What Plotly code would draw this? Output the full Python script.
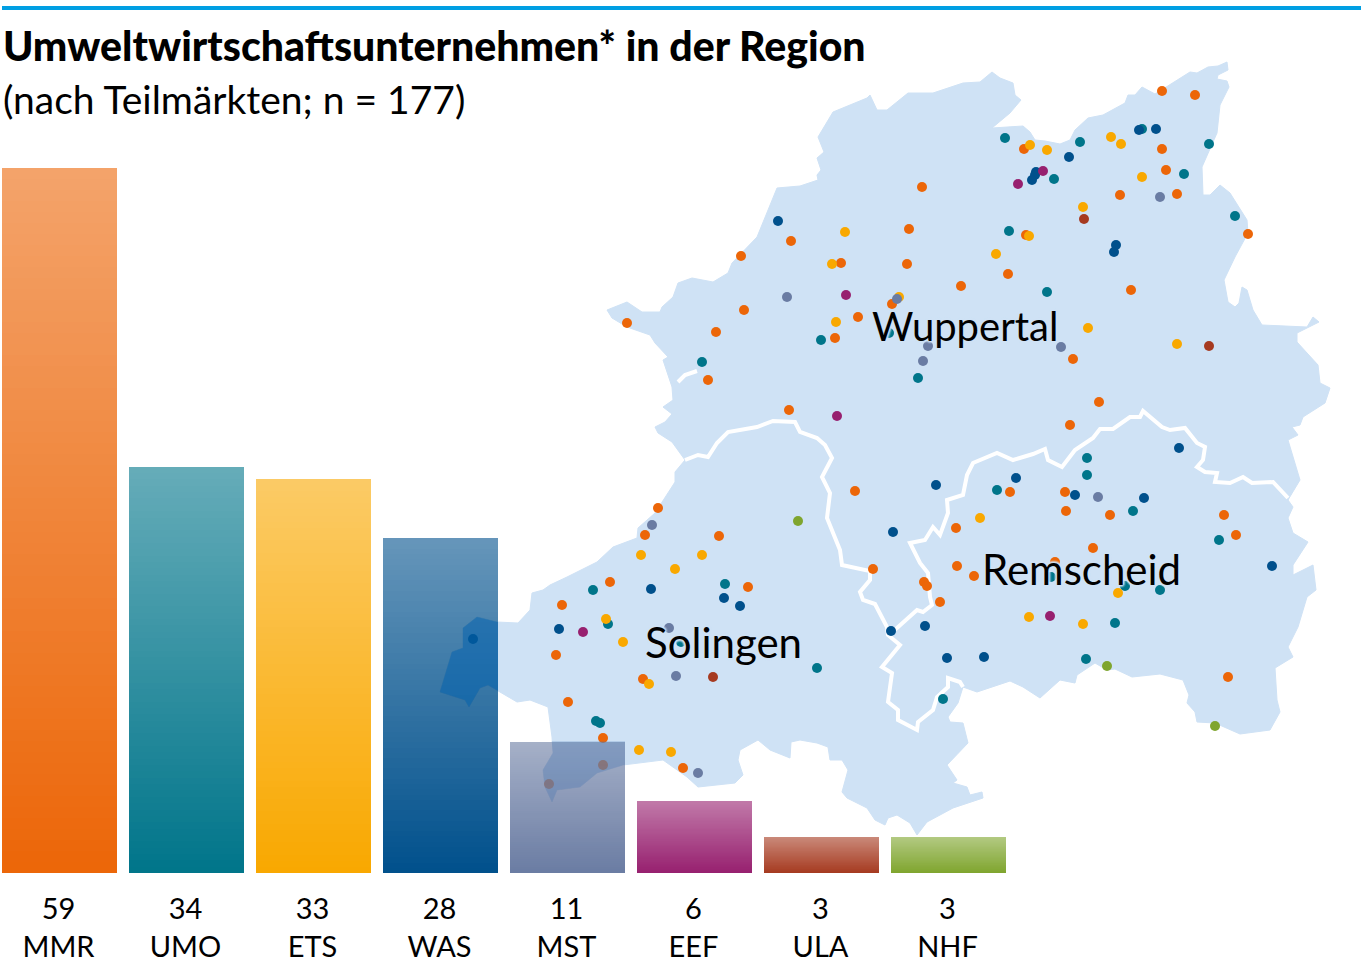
import plotly.graph_objects as go

# bar data
codes = ["MMR", "UMO", "ETS", "WAS", "MST", "EEF", "ULA", "NHF"]
counts = [59, 34, 33, 28, 11, 6, 3, 3]
rgb = [(236, 102, 8), (0, 117, 138), (249, 168, 0), (0, 80, 140),
       (106, 124, 163), (151, 32, 111), (166, 58, 32), (127, 165, 46)]

# region outline
outline = [(980, 82), (992, 72), (1000, 78), (1013, 83), (1015, 95), (1021, 100), (1010, 113), (992, 128),
           (1023, 126), (1030, 132), (1035, 140), (1045, 141), (1060, 144), (1070, 140), (1075, 130), (1088, 118),
           (1103, 115), (1125, 103), (1128, 95), (1135, 95), (1142, 87), (1155, 94), (1163, 89), (1178, 80),
           (1190, 72), (1197, 73), (1208, 67), (1218, 66), (1227, 62), (1228, 70), (1218, 75), (1217, 79),
           (1227, 81), (1229, 87), (1220, 105), (1217, 133), (1208, 153), (1202, 167), (1203, 195), (1210, 195),
           (1220, 185), (1230, 193), (1247, 220), (1248, 233), (1235, 257), (1224, 280), (1228, 302), (1235, 307),
           (1239, 303), (1242, 287), (1247, 290), (1253, 310), (1262, 325), (1307, 327), (1313, 317), (1319, 322),
           (1297, 333), (1297, 342), (1318, 365), (1320, 383), (1330, 388), (1325, 403), (1303, 417), (1300, 425),
           (1292, 427), (1298, 435), (1288, 440), (1293, 457), (1300, 480), (1288, 500), (1293, 507), (1288, 518),
           (1293, 533), (1308, 542), (1293, 565), (1293, 575), (1313, 565), (1316, 590), (1307, 597), (1298, 627),
           (1288, 647), (1293, 657), (1275, 668), (1277, 700), (1280, 712), (1270, 730), (1240, 734), (1215, 723),
           (1197, 722), (1195, 712), (1187, 703), (1189, 695), (1183, 680), (1160, 674), (1143, 676), (1132, 677),
           (1115, 669), (1107, 670), (1095, 663), (1077, 675), (1075, 683), (1060, 680), (1040, 698), (1023, 687),
           (1010, 681), (992, 687), (977, 692), (963, 687), (958, 703), (948, 717), (950, 722), (963, 723),
           (968, 743), (947, 765), (957, 780), (953, 783), (967, 787), (970, 795), (982, 792), (983, 798),
           (953, 808), (927, 822), (917, 835), (910, 823), (897, 815), (888, 818), (885, 825), (875, 820),
           (867, 808), (847, 798), (842, 792), (848, 770), (842, 760), (830, 760), (828, 747), (817, 743),
           (800, 740), (791, 742), (790, 758), (770, 750), (758, 740), (740, 750), (738, 760), (743, 775),
           (735, 783), (698, 787), (687, 777), (663, 760), (637, 763), (623, 765), (597, 773), (580, 787),
           (557, 790), (552, 802), (545, 787), (543, 770), (553, 753), (552, 737), (548, 707), (530, 700),
           (517, 702), (502, 693), (488, 685), (480, 688), (469, 707), (465, 700), (440, 692), (452, 652),
           (463, 648), (463, 628), (477, 617), (497, 622), (518, 623), (530, 610), (532, 593), (543, 590),
           (550, 585), (567, 577), (577, 572), (597, 562), (613, 547), (637, 538), (638, 528), (655, 513),
           (675, 482), (675, 472), (685, 460), (672, 442), (658, 433), (655, 427), (665, 422), (672, 414),
           (663, 407), (673, 400), (672, 387), (663, 360), (668, 357), (655, 343), (650, 335), (627, 327),
           (612, 318), (607, 310), (627, 302), (642, 312), (660, 312), (662, 307), (673, 297), (678, 283),
           (692, 278), (713, 282), (728, 273), (732, 263), (757, 237), (777, 188), (800, 186), (818, 180),
           (817, 175), (821, 170), (817, 158), (824, 152), (818, 137), (833, 112), (867, 98), (870, 95),
           (877, 110), (887, 110), (908, 93), (933, 93), (963, 83), (980, 82)]

# city borders
border_solingen = [(685, 460), (698, 455), (708, 457), (717, 443), (728, 432), (757, 427), (773, 421), (795, 422),
                   (800, 432), (817, 438), (825, 445), (832, 458), (822, 477), (830, 493), (827, 518), (840, 550),
                   (842, 565), (870, 571), (870, 580), (860, 592), (863, 600), (875, 604), (887, 627), (888, 635),
                   (900, 645), (882, 667), (892, 673), (888, 702), (898, 710), (898, 720), (917, 730), (918, 722),
                   (933, 710), (937, 697), (948, 687), (948, 678), (960, 682), (963, 687)]
border_remscheid = [(888, 635), (897, 628), (917, 610), (923, 612), (932, 605), (930, 597), (928, 573), (920, 563),
                    (910, 543), (925, 540), (933, 527), (940, 535), (948, 513), (947, 500), (963, 495), (967, 475),
                    (973, 463), (997, 453), (1013, 460), (1033, 454), (1045, 449), (1048, 460), (1062, 467),
                    (1075, 450), (1093, 438), (1100, 429), (1113, 429), (1130, 417), (1140, 417), (1143, 411),
                    (1162, 427), (1170, 430), (1185, 428), (1197, 443), (1205, 447), (1203, 460), (1197, 467),
                    (1205, 472), (1217, 473), (1215, 482), (1230, 483), (1243, 477), (1252, 483), (1273, 482),
                    (1288, 498)]
border_inlet = [(678, 382), (685, 375), (697, 371)]

# company locations per sub-market
dots_mmr = [(1162, 91), (1195, 95), (1024, 149), (1162, 149), (1166, 170), (1177, 194), (1120, 195), (1026, 235),
            (1008, 274), (1131, 290), (961, 286), (1248, 234), (922, 187), (909, 229), (791, 241), (741, 256),
            (841, 263), (907, 264), (744, 310), (892, 304), (858, 317), (716, 332), (835, 338), (627, 323),
            (708, 380), (789, 410), (855, 491), (658, 508), (645, 535), (719, 536), (956, 528), (873, 569),
            (957, 566), (974, 576), (924, 582), (927, 586), (748, 587), (610, 582), (940, 602), (1073, 359),
            (1099, 402), (1070, 425), (1010, 492), (1065, 492), (1066, 511), (1110, 515), (1224, 515), (1236, 535),
            (1093, 548), (1055, 562), (1228, 677), (562, 605), (556, 655), (643, 679), (568, 702), (603, 738),
            (683, 768), (603, 765), (549, 784)]
dots_umo = [(1005, 138), (1080, 142), (1142, 129), (1184, 174), (1209, 144), (1054, 179), (1235, 216), (1009, 231),
            (1047, 292), (821, 340), (889, 333), (702, 362), (918, 378), (725, 584), (1087, 458), (1087, 475),
            (997, 490), (1133, 511), (1219, 540), (1051, 577), (1125, 586), (1160, 590), (1115, 623), (1086, 659),
            (593, 590), (608, 624), (596, 721), (600, 723), (681, 642), (817, 668), (943, 699)]
dots_ets = [(1030, 145), (1047, 150), (1111, 137), (1121, 144), (1142, 177), (1083, 207), (1029, 236), (996, 254),
            (845, 232), (832, 264), (899, 297), (836, 322), (641, 555), (702, 555), (675, 569), (980, 518),
            (1088, 328), (1177, 344), (1118, 593), (1029, 617), (1083, 624), (606, 619), (623, 642), (649, 684),
            (639, 750), (671, 752)]
dots_was = [(1139, 130), (1156, 129), (1069, 157), (1036, 172), (1035, 175), (1032, 180), (1116, 245), (1114, 252),
            (778, 221), (936, 485), (893, 532), (651, 589), (724, 598), (740, 606), (1179, 448), (1016, 478),
            (1075, 495), (1144, 498), (1272, 566), (984, 657), (559, 629), (473, 639), (891, 631), (925, 626),
            (947, 658)]
dots_mst = [(1160, 197), (787, 297), (897, 299), (923, 361), (928, 346), (652, 525), (1061, 347), (1098, 497),
            (669, 628), (676, 676), (698, 773)]
dots_eef = [(1043, 171), (1018, 184), (846, 295), (837, 416), (1050, 616), (583, 632)]
dots_ula = [(1084, 219), (1209, 346), (713, 677)]
dots_nhf = [(798, 521), (1107, 666), (1215, 726)]
all_dots = [dots_mmr, dots_umo, dots_ets, dots_was, dots_mst, dots_eef, dots_ula, dots_nhf]

cities = [("Wuppertal", 965, 326, 40), ("Solingen", 723, 642, 42), ("Remscheid", 1081, 569, 42)]

MAP_BLUE = "#CFE2F5"
FONT = "Lato"
STEPS = 64  # slices per bar for the fade towards the top

fig = go.Figure()

# map goes on the first axes so the see-through bars lie on top of it
fig.add_trace(go.Scatter(x=[p[0] for p in outline], y=[p[1] for p in outline], mode="lines", fill="toself",
                         fillcolor=MAP_BLUE, line=dict(color=MAP_BLUE, width=1), hoverinfo="skip"))
for border in [border_solingen, border_remscheid, border_inlet]:
    fig.add_trace(go.Scatter(x=[p[0] for p in border], y=[p[1] for p in border], mode="lines",
                             line=dict(color="white", width=4), hoverinfo="skip"))
for code, col, dots in zip(codes, rgb, all_dots):
    fig.add_trace(go.Scatter(x=[p[0] for p in dots], y=[p[1] for p in dots], mode="markers", name=code,
                             marker=dict(size=10, color="rgb(%d,%d,%d)" % col, line_width=0)))

for k in range(STEPS):
    alpha = 1 - 0.4 * (k + 0.5) / STEPS
    fig.add_trace(go.Bar(x=codes, y=[c / STEPS for c in counts], xaxis="x2", yaxis="y2",
                         marker=dict(color=["rgba(%d,%d,%d,%.3f)" % (c + (alpha,)) for c in rgb], line_width=0),
                         hoverinfo="skip"))

# map shows darker where it runs under the two bars: same outline again, clipped to each bar
fig.add_trace(go.Scatter(x=[p[0] for p in outline], y=[p[1] for p in outline], mode="lines", fill="toself",
                         fillcolor="rgba(0,100,180,0.4)", line_width=0, xaxis="x3", yaxis="y3", hoverinfo="skip"))
fig.add_trace(go.Scatter(x=[p[0] for p in outline], y=[p[1] for p in outline], mode="lines", fill="toself",
                         fillcolor="rgba(70,120,180,0.2)", line_width=0, xaxis="x4", yaxis="y4", hoverinfo="skip"))

annotations = [dict(text="Umweltwirtschaftsunternehmen* in der Region", x=2, y=45, xref="x", yref="y",
                    xanchor="left", yanchor="middle", showarrow=False, borderpad=0,
                    font=dict(family=FONT, size=41, weight=900, color="black")),
               dict(text="(nach Teilmärkten; n = 177)", x=2, y=99, xref="x", yref="y",
                    xanchor="left", yanchor="middle", showarrow=False, borderpad=0,
                    font=dict(family=FONT, size=39, color="black"))]
halo = ", ".join(["0 0 3px " + MAP_BLUE] * 8)
for name, cx, cy, size in cities:
    annotations.append(dict(text=name, x=cx, y=cy, xref="x", yref="y", showarrow=False,
                            font=dict(family=FONT, size=size, color="black", shadow=halo)))

hidden = dict(visible=False, fixedrange=True)
fig.update_layout(
    width=1361, height=972, autosize=False, margin=dict(l=0, r=0, t=0, b=0),
    paper_bgcolor="white", plot_bgcolor="rgba(0,0,0,0)", showlegend=False,
    barmode="stack", bargap=12 / 127,
    xaxis=dict(range=[0, 1361], domain=[0, 1], **hidden),
    yaxis=dict(range=[972, 0], domain=[0, 1], **hidden),
    xaxis2=dict(domain=[0, 1], anchor="y2", range=[-59.5 / 127, (1361 - 59.5) / 127], fixedrange=True,
                tickmode="array", tickvals=codes,
                ticktext=["%d<br>%s" % (c, n) for c, n in zip(counts, codes)],
                ticks="", showline=False, showgrid=False, zeroline=False, ticklabelstandoff=16, ticklabelshift=-1,
                tickfont=dict(family=FONT, size=29, color="black")),
    yaxis2=dict(domain=[99 / 972, 1], anchor="x2", range=[0, 873 / (705 / 59)], **hidden),
    xaxis3=dict(domain=[383 / 1361, 498 / 1361], anchor="y3", range=[383, 498], **hidden),
    yaxis3=dict(domain=[99 / 972, 433 / 972], anchor="x3", range=[873, 539], **hidden),
    xaxis4=dict(domain=[510 / 1361, 625 / 1361], anchor="y4", range=[510, 625], **hidden),
    yaxis4=dict(domain=[99 / 972, 231 / 972], anchor="x4", range=[873, 741], **hidden),
    shapes=[dict(type="line", xref="x", yref="y", x0=2, x1=1361, y0=8, y1=8, line=dict(color="#009FE3", width=4))],
    annotations=annotations,
)

# page margin would push the figure 8px off
fig.write_html("out.html", config=dict(displayModeBar=False), post_script="document.body.style.margin = '0';")
